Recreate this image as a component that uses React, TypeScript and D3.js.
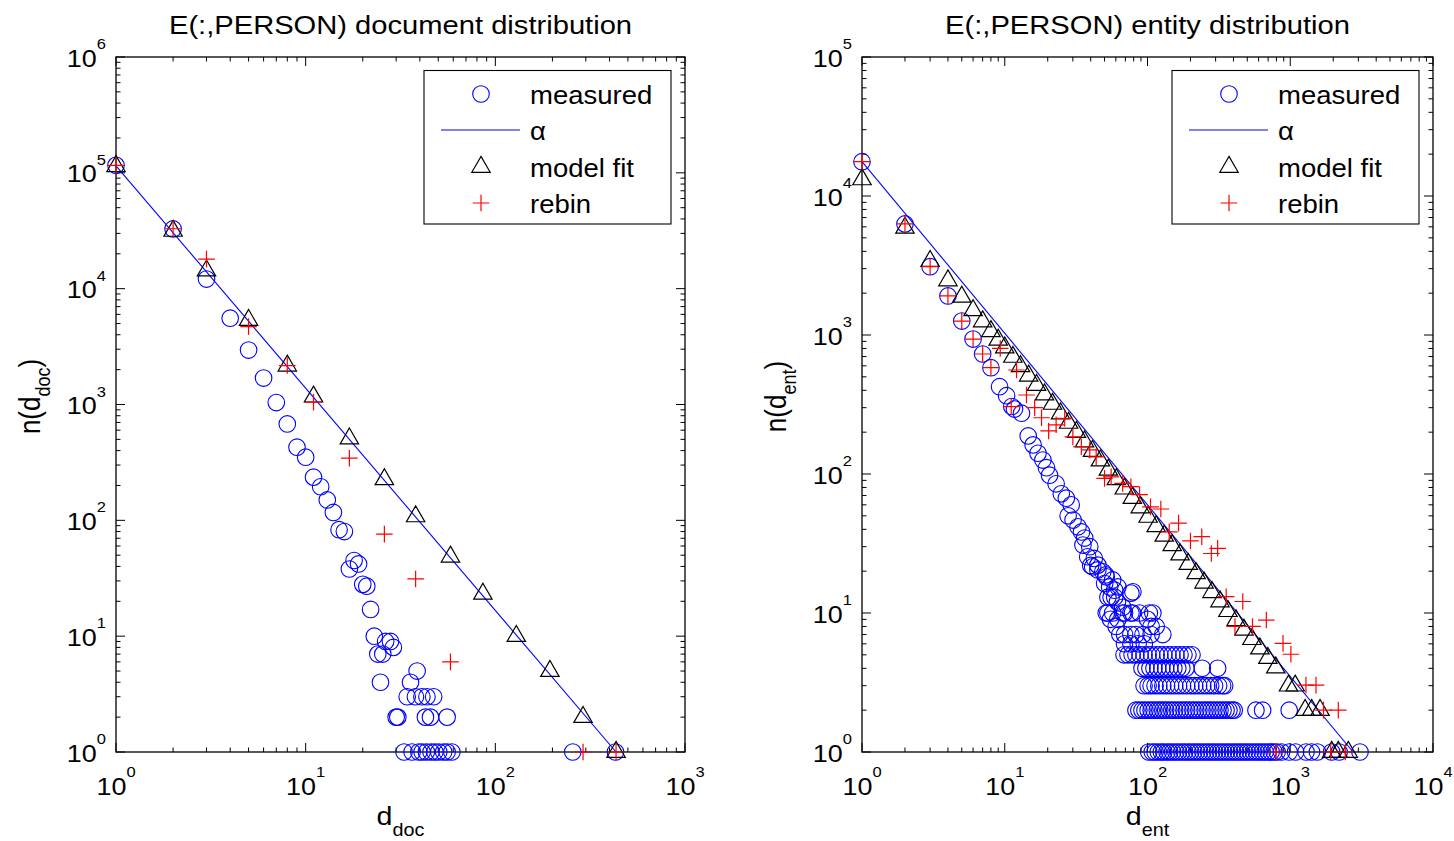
import React from 'react';
import * as d3 from 'd3';

type P = [number, number];

const FONT = '"Liberation Sans", Arial, Helvetica, sans-serif';
const SX = 1.1;
const BLUE = '#0000ff';
const RED = '#ff0000';

// ---------- Left panel: E(:,PERSON) document distribution ----------
const leftMeasured: P[] = [
  [1, 116000], [2, 32800], [3, 12100], [4, 5560], [5, 2950], [6, 1690], [7, 1040], [8, 680],
  [9, 428], [10, 351], [11, 236], [12, 195], [13, 150], [14, 117], [15, 83], [16, 80],
  [17, 38], [18, 45], [19, 42], [20, 28], [21, 27], [22, 17], [23, 10], [24, 7], [25.5, 7],
  [26.4, 9], [28, 9], [29, 8], [24.8, 4], [30, 2], [30.6, 2], [34.3, 3], [35.7, 4], [37.9, 3],
  [38.7, 5], [41, 3], [42.8, 2], [43.6, 3], [45.5, 2], [47.3, 3], [55.7, 2],
  [33, 1], [36.4, 1], [39.5, 1], [41.1, 1], [43.3, 1], [45.8, 1], [48, 1], [50.3, 1],
  [53.4, 1], [55.7, 1], [59, 1], [256, 1], [430, 1],
];
const leftAlpha: P[] = [[1, 115000], [433, 1]];
const leftModel: P[] = [
  [1, 114000], [2, 31500], [3, 14300], [5, 5350], [8, 2160], [11, 1168], [17, 507], [26, 226],
  [38, 108], [58, 48.5], [86, 23.2], [129, 10], [194, 5], [290, 2], [433, 1],
];
const leftRebin: P[] = [
  [1, 116000], [2, 32900], [3, 18000], [5, 4710], [8, 2170], [11, 1047], [17, 344], [26, 76],
  [38, 31.2], [58, 6], [290, 1], [433, 1],
];

// ---------- Right panel: E(:,PERSON) entity distribution ----------
const rightMeasuredUpper: P[] = [
  [1, 17650], [2, 6300], [3, 3100], [4, 1910], [5, 1260], [6, 935], [7, 730], [8, 582],
  [9.2, 425], [10.3, 366], [11.2, 306], [11.7, 293], [13.1, 274], [14.6, 188], [15.8, 162],
  [17.1, 141], [18.5, 126], [19.6, 111], [20.6, 98], [22.9, 85], [24.9, 72], [27, 67],
  [29.2, 60], [27.8, 50], [30.1, 46.6], [32.6, 41.7], [34.5, 38.3], [36.3, 34.6], [35.3, 30.8],
  [39.4, 30], [38.1, 25.4], [42.4, 24.7], [44.9, 22.1], [41.3, 21.5], [40, 22], [48.6, 19.8],
  [44.9, 20.4], [51.4, 18.2], [51, 18.8], [57, 17.3], [50.1, 16.3], [54.3, 15.4], [62, 15.4],
  [58.9, 14.6], [79, 14.2], [76.5, 13.9], [55.6, 13], [52.8, 13], [58.9, 13], [61.6, 12],
  [67.1, 11],
];
const rightRow10 = [51.4, 52.8, 57, 67, 69, 76.5, 78.5, 88, 103, 109];
const rightRow9 = [55, 62, 100];
const rightRow8 = [60.3, 106, 115];
const rightRow7 = [64, 69, 76.5, 83, 93, 106, 128];
const rightRow6 = [69, 76.5, 86, 95];
const rightRow5 = [68.5, 73, 78, 83, 88.7, 94.6, 101, 107, 115, 122, 130, 139, 148, 158, 169, 180, 192, 205];
const rightRow4 = [91.5, 97.5, 104, 111, 118, 126, 134, 143, 153, 163, 174, 186, 242, 310];
const rightRow3 = [94.6, 101, 106, 113, 120, 128, 136, 145, 155, 165, 176, 188, 201, 214, 228, 244, 260, 277, 295, 315, 336, 347];
const rightRow2 = [83, 87, 91.5, 96, 101, 106, 111, 117, 122, 128, 134, 141, 148, 155, 163, 171, 180, 188, 198, 208, 218, 229, 241, 253, 265, 278, 292, 307, 322, 338, 355, 372, 391, 405, 575, 640, 983];
const rightRow1 = [102, 108, 113, 119, 125, 130, 137, 143, 150, 158, 165, 174, 182, 192, 201, 211, 221, 232, 244, 256, 268, 282, 295, 310, 325, 341, 358, 375, 394, 413, 433, 455, 477, 500, 525, 551, 578, 606, 636, 667, 700, 735, 771, 809, 870, 983, 1090, 1290, 1410, 1550, 1950, 2200, 3080];

const rightAlpha: P[] = [[1, 17650], [2757, 1]];
const rightModel: P[] = [
  [1, 13150], [2, 5900], [3, 3400], [4, 2466], [5, 1880], [6, 1506], [7, 1251], [8, 1064], [9, 923],
  [10, 811], [11.4, 695], [12.9, 595], [14.7, 509], [16.7, 436], [19, 373], [21.6, 319], [24.6, 272],
  [28, 233], [31.8, 200], [36.2, 171], [41.2, 146], [46.8, 125], [53.2, 107], [60.5, 91.6],
  [68.8, 78.4], [78.3, 67.1], [89, 57.4], [101, 49.1], [115, 42], [131, 35.9], [149, 30.7],
  [169, 26.3], [193, 22.5], [219, 19.3], [249, 16.5], [283, 14.1], [322, 12.1], [366, 10.3],
  [417, 8.85], [474, 7.57], [539, 6.48], [613, 5.54], [697, 4.74], [792, 4.05],
  [972, 3], [1083, 3], [1271, 2], [1414, 2], [1618, 2], [1950, 1], [2170, 1], [2550, 1],
];
const rightRebin: P[] = [
  [1, 17650], [2, 6300], [3, 3100], [4, 1910], [5, 1260], [6, 935], [7, 730], [8, 582],
  [9.3, 800], [11.1, 305], [12.1, 560], [14.2, 370], [16.2, 300], [18.1, 254], [20.3, 204],
  [22.9, 226], [26.3, 251], [30, 185], [34.4, 157], [39.4, 149], [43.7, 133], [50, 93],
  [55.6, 95.5], [67, 85.6], [76.5, 81], [88, 71], [105, 58], [124, 56], [142, 38.4],
  [165, 44.3], [200, 33], [240, 35.4], [280, 26.8], [310, 29.2], [356, 13.1], [465, 12.1],
  [410, 8], [544, 8], [680, 8.9], [890, 6.05], [1010, 5.05], [1288, 3.03], [1515, 3.03],
  [1710, 2], [2170, 2], [795, 1], [1920, 1], [2430, 1],
];

const rowsToPoints = (rows: [number, number[]][]): P[] =>
  rows.flatMap(([n, ds]) => ds.map((d) => [d, n] as P));

const rightMeasured: P[] = [
  ...rightMeasuredUpper,
  ...rowsToPoints([
    [10, rightRow10], [9, rightRow9], [8, rightRow8], [7, rightRow7], [6, rightRow6],
    [5, rightRow5], [4, rightRow4], [3, rightRow3], [2, rightRow2], [1, rightRow1],
  ]),
];

// tick labels (decade exponents) and legend
const leftXExps = [0, 1, 2, 3];
const leftYExps = [0, 1, 2, 3, 4, 5, 6];
const rightXExps = [0, 1, 2, 3, 4];
const rightYExps = [0, 1, 2, 3, 4, 5];
const legendLabels = ['measured', '\u03b1', 'model fit', 'rebin'];

function T(props: {
  x: number; y: number; size: number; anchor?: string; rot?: number; children: React.ReactNode;
}) {
  const { x, y, size, anchor = 'start', rot = 0, children } = props;
  return (
    <g transform={`translate(${x},${y}) scale(${SX},1)${rot ? ` rotate(${rot})` : ''}`}>
      <text fontFamily={FONT} fontSize={size} textAnchor={anchor as any} fill="#000">
        {children}
      </text>
    </g>
  );
}

const Circle = ({ cx, cy }: { cx: number; cy: number }) => (
  <circle cx={cx} cy={cy} r={8.3} fill="none" stroke={BLUE} strokeWidth={1.1} />
);
const Tri = ({ cx, cy }: { cx: number; cy: number }) => (
  <path
    d={`M${cx},${cy - 10.6} L${cx + 9.2},${cy + 5.3} L${cx - 9.2},${cy + 5.3} Z`}
    fill="none"
    stroke="#000"
    strokeWidth={1.2}
  />
);
const Plus = ({ cx, cy }: { cx: number; cy: number }) => (
  <path
    d={`M${cx - 8.3},${cy} H${cx + 8.3} M${cx},${cy - 8.3} V${cx === cx ? cy + 8.3 : 0}`}
    stroke={RED}
    strokeWidth={1.2}
    fill="none"
  />
);

interface PanelProps {
  left: number; right: number; top: number; bottom: number;
  xExps: number[]; yExps: number[];
  title: string; sub: string;
  measured: P[]; alpha: P[]; model: P[]; rebin: P[];
}

function Panel(p: PanelProps) {
  const xMaxE = p.xExps[p.xExps.length - 1];
  const yMaxE = p.yExps[p.yExps.length - 1];
  const x = d3.scaleLog().domain([1, Math.pow(10, xMaxE)]).range([p.left, p.right]);
  const y = d3.scaleLog().domain([1, Math.pow(10, yMaxE)]).range([p.bottom, p.top]);
  const isMajor = (v: number) => Math.abs(Math.log10(v) - Math.round(Math.log10(v))) < 1e-9;
  const xt = x.ticks();
  const yt = y.ticks();
  const cx = (p.left + p.right) / 2;
  const cy = (p.top + p.bottom) / 2;
  const line = d3.line<P>().x((d) => x(d[0])).y((d) => y(d[1]));
  const lw = 247;
  const lx = p.right - 14 - lw;
  const ly = 70.5;
  const rowsY = [94, 130, 167, 203];
  const major = 9;
  const minor = 4.5;

  return (
    <g>
      <rect x={p.left} y={p.top} width={p.right - p.left} height={p.bottom - p.top} fill="#fff" />
      {xt.map((v, i) => {
        const L = isMajor(v) ? major : minor;
        const X = x(v);
        return (
          <g key={'xt' + i}>
            <line x1={X} x2={X} y1={p.bottom} y2={p.bottom - L} stroke="#000" strokeWidth={1} />
            <line x1={X} x2={X} y1={p.top} y2={p.top + L} stroke="#000" strokeWidth={1} />
          </g>
        );
      })}
      {yt.map((v, i) => {
        const L = isMajor(v) ? major : minor;
        const Y = y(v);
        return (
          <g key={'yt' + i}>
            <line x1={p.left} x2={p.left + L} y1={Y} y2={Y} stroke="#000" strokeWidth={1} />
            <line x1={p.right} x2={p.right - L} y1={Y} y2={Y} stroke="#000" strokeWidth={1} />
          </g>
        );
      })}
      <rect
        x={p.left}
        y={p.top}
        width={p.right - p.left}
        height={p.bottom - p.top}
        fill="none"
        stroke="#000"
        strokeWidth={1.3}
      />
      {p.xExps.map((e) => (
        <T key={'xl' + e} x={x(Math.pow(10, e))} y={795} size={24.5} anchor="middle">
          <tspan>10</tspan>
          <tspan dy={-18} fontSize={15}>{e}</tspan>
        </T>
      ))}
      {p.yExps.map((e) => (
        <T key={'yl' + e} x={p.left - 10} y={y(Math.pow(10, e)) + 9.5} size={24.5} anchor="end">
          <tspan>10</tspan>
          <tspan dy={-17.5} fontSize={15}>{e}</tspan>
        </T>
      ))}
      <T x={cx} y={34} size={26.5} anchor="middle">{p.title}</T>
      <T x={cx} y={825} size={26} anchor="middle">
        <tspan>d</tspan>
        <tspan dy={11} fontSize={18}>{p.sub}</tspan>
      </T>
      <T x={p.left - 76} y={cy - 8} size={26} anchor="middle" rot={-90}>
        <tspan>n(d</tspan>
        <tspan dy={9} fontSize={18}>{p.sub}</tspan>
        <tspan dy={-9}>)</tspan>
      </T>

      {p.measured.map((d, i) => (
        <Circle key={'m' + i} cx={x(d[0])} cy={y(d[1])} />
      ))}
      <path d={line(p.alpha) || ''} stroke={BLUE} strokeWidth={1.1} fill="none" />
      {p.model.map((d, i) => (
        <Tri key={'t' + i} cx={x(d[0])} cy={y(d[1])} />
      ))}
      {p.rebin.map((d, i) => (
        <Plus key={'r' + i} cx={x(d[0])} cy={y(d[1])} />
      ))}

      <rect x={lx} y={ly} width={lw} height={153.5} fill="#fff" stroke="#000" strokeWidth={1.1} />
      <Circle cx={lx + 57} cy={rowsY[0]} />
      <line x1={lx + 17} x2={lx + 96} y1={rowsY[1]} y2={rowsY[1]} stroke={BLUE} strokeWidth={1.1} />
      <Tri cx={lx + 57} cy={rowsY[2]} />
      <Plus cx={lx + 57} cy={rowsY[3]} />
      {legendLabels.map((s, i) => (
        <T key={'lg' + i} x={lx + 106} y={rowsY[i] + 9.5} size={25}>{s}</T>
      ))}
    </g>
  );
}

export default function App() {
  return (
    <svg
      width={1454}
      height={841}
      style={{ position: 'absolute', left: 0, top: 0, background: '#fff' }}
    >
      <rect x={0} y={0} width={1454} height={841} fill="#fff" />
      <Panel
        left={116} right={685} top={57} bottom={752}
        xExps={leftXExps} yExps={leftYExps}
        title="E(:,PERSON) document distribution" sub="doc"
        measured={leftMeasured} alpha={leftAlpha} model={leftModel} rebin={leftRebin}
      />
      <Panel
        left={862} right={1433} top={57} bottom={752}
        xExps={rightXExps} yExps={rightYExps}
        title="E(:,PERSON) entity distribution" sub="ent"
        measured={rightMeasured} alpha={rightAlpha} model={rightModel} rebin={rightRebin}
      />
    </svg>
  );
}
